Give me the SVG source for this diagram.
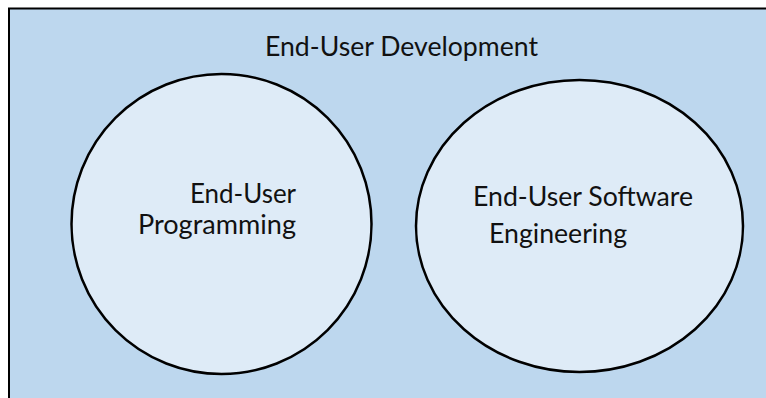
<svg xmlns="http://www.w3.org/2000/svg" width="766" height="398" viewBox="0 0 766 398">
  <style>
    .frame { fill: #BDD7EE; stroke: #000000; stroke-width: 2; }
    .set { fill: #DEEBF7; stroke: #000000; stroke-width: 2.5; }
    .lbl { font-family: Lato, "Open Sans", "Liberation Sans", sans-serif; font-size: 26px; fill: #111111; }
  </style>
  <g id="end-user-development">
    <rect class="frame" x="9" y="8.5" width="780" height="400"/>
    <text class="lbl" x="265" y="56" textLength="273" lengthAdjust="spacingAndGlyphs">End-User Development</text>
  </g>
  <g id="end-user-programming">
    <circle class="set" cx="221.5" cy="224" r="150"/>
    <text class="lbl" x="190" y="203" textLength="106" lengthAdjust="spacingAndGlyphs">End-User</text>
    <text class="lbl" x="138" y="234" textLength="158" lengthAdjust="spacingAndGlyphs">Programming</text>
  </g>
  <g id="end-user-software-engineering">
    <ellipse class="set" cx="579.5" cy="226" rx="163.5" ry="146"/>
    <text class="lbl" x="473" y="206" textLength="220" lengthAdjust="spacingAndGlyphs">End-User Software</text>
    <text class="lbl" x="489" y="243" textLength="138" lengthAdjust="spacingAndGlyphs">Engineering</text>
  </g>
  <g id="connectors"/>
</svg>
